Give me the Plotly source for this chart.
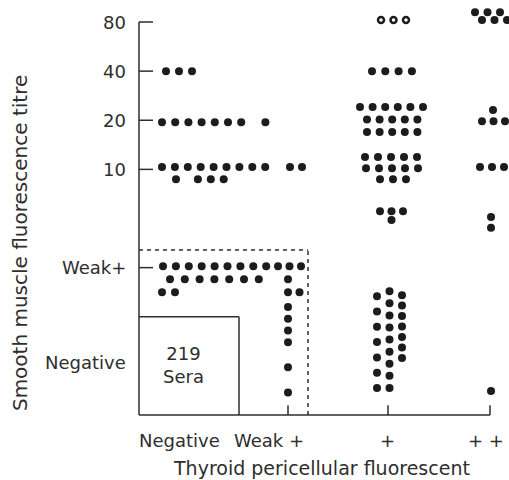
import plotly.graph_objects as go

# ---------------- data ----------------
x_categories = ["Negative", "Weak +", "+", "+ +"]
y_levels = ["Negative", "Weak+", "", "10", "20", "40", "80"]

# number of sera in each cell, one list per titre level (columns follow x_categories)
counts_negative = [219, 6, 23, 1]
counts_weak = [18, 6, 0, 0]
counts_unlabelled = [0, 0, 4, 2]
counts_10 = [13, 2, 13, 3]
counts_20 = [8, 0, 16, 4]
counts_40 = [3, 0, 4, 0]
counts_80 = [0, 0, 3, 6]
open_80 = [0, 0, 3, 0]          # sera drawn as open circles at titre 80

box_label = "Sera"
x_title = "Thyroid pericellular fluorescent"
y_title = "Smooth muscle fluorescence titre"

counts = [counts_negative, counts_weak, counts_unlabelled, counts_10,
          counts_20, counts_40, counts_80]
open_counts = {6: open_80}

# ---------------- layout (positions / styles) ----------------
X_POS = [0.0, 1.49, 2.49, 3.51]
Y_POS = [1, 3, 4, 5, 6, 7, 8]
Y_TICKS = [1, 3, 4, 5, 6]          # level indices carrying a tick mark
X_END, Y_END = 3.51, 8.0
X_RANGE = [-1.39, 3.70]
Y_RANGE = [-1.323, 8.448]
Y_TICK_LEN = 0.14
X_TICK_LEN = 0.20

# arrangement of dots inside each cell: (level index, category index)
SPECS = {
    (5, 0): dict(sizes=[3], dx0=.27, dy0=0, along=.13),
    (4, 0): dict(sizes=[8], dx0=.23, dy0=-.04, along=.132, gaps={(0, 7): .11}),
    (3, 0): dict(sizes=[9, 4], dx0=.23, dy0=.05, along=.129, across=-.25,
                 shift=[0, .14], gaps={(1, 1): .09}),
    (1, 0): dict(sizes=[9, 7, 2], dx0=.24, dy0=.03, along=[.129, .148, .13],
                 across=-.265, shift=[0, .07, -.01]),
    (3, 1): dict(sizes=[2], dx0=.02, dy0=.05, along=.12),
    (1, 1): dict(sizes=[3, 1, 2], dx0=-.10, dy0=.03, along=.115, across=-.265,
                 shift=[0, .10, .10]),
    (0, 1): dict(orient="v", sizes=[6], dx0=0, dy0=1.20, along=-.24,
                 gaps={(0, 4): .27, (0, 5): .27}),
    (6, 2): dict(sizes=[3], dx0=-.07, dy0=.04, along=.125),
    (5, 2): dict(sizes=[4], dx0=-.16, dy0=0, along=.133),
    (4, 2): dict(sizes=[6, 5, 5], dx0=-.28, dy0=.27, along=.126, across=-.255,
                 shift=[0, .07, .07]),
    (3, 2): dict(sizes=[5, 5, 3], dx0=-.23, dy0=.25, along=.13, across=-.225,
                 shift=[0, .01, .15]),
    (2, 2): dict(sizes=[3, 1], dx0=-.08, dy0=.15, along=.115, across=-.18,
                 shift=[0, .115]),
    (0, 2): dict(orient="v", sizes=[7, 9, 7], dx0=-.11, dy0=1.42,
                 along=[-.312, -.246, -.213], across=.125, shift=[0, .10, .02]),
    (6, 3): dict(sizes=[3, 3], dx0=-.15, dy0=.20, along=.125, across=-.16,
                 shift=[0, .07]),
    (4, 3): dict(sizes=[1, 3], dx0=.03, dy0=.21, along=.115, across=-.23,
                 shift=[0, -.11]),
    (3, 3): dict(sizes=[3], dx0=-.10, dy0=.05, along=.12),
    (2, 3): dict(orient="v", sizes=[2], dx0=.01, dy0=.03, along=-.22),
    (0, 3): dict(sizes=[1], dx0=.01, dy0=-.51),
}

INK = "#1c1c1c"
TXT = "#2e2e2e"
FONT = "DejaVu Sans"


def arrange(spec, n):
    sizes = spec["sizes"]
    assert sum(sizes) == n, (spec, n)
    orient = spec.get("orient", "h")
    along = spec.get("along", .13)
    across = spec.get("across", -.25)
    shift = spec.get("shift", [0] * len(sizes))
    gaps = spec.get("gaps", {})
    pts = []
    for li, size in enumerate(sizes):
        step = along[li] if isinstance(along, list) else along
        sign = 1 if step >= 0 else -1
        extra = 0.0
        for j in range(size):
            extra += gaps.get((li, j), 0.0)
            a = shift[li] + j * step + sign * extra
            if orient == "h":
                pts.append((spec["dx0"] + a, spec["dy0"] + li * across))
            else:
                pts.append((spec["dx0"] + li * across, spec["dy0"] + a))
    return pts


fx, fy, ox, oy = [], [], [], []
for yi, row in enumerate(counts):
    for xi, n in enumerate(row):
        if (yi, xi) not in SPECS:
            continue
        pts = arrange(SPECS[(yi, xi)], n)
        n_open = open_counts.get(yi, [0] * 4)[xi]
        for k, (dx, dy) in enumerate(pts):
            X = X_POS[xi] + dx
            Y = Y_POS[yi] + dy
            if k < n_open:
                ox.append(X); oy.append(Y)
            else:
                fx.append(X); fy.append(Y)

fig = go.Figure()
fig.add_trace(go.Scatter(x=fx, y=fy, mode="markers", cliponaxis=False,
                         marker=dict(size=8, color=INK, line=dict(width=0)),
                         showlegend=False, hoverinfo="skip"))
fig.add_trace(go.Scatter(x=ox, y=oy, mode="markers", cliponaxis=False,
                         marker=dict(size=6, color="white",
                                     line=dict(width=2.5, color=INK)),
                         showlegend=False, hoverinfo="skip"))

LINE = dict(color=TXT, width=1.5)
# axes
fig.add_shape(type="line", x0=0, x1=0, y0=0, y1=Y_END, line=LINE)
fig.add_shape(type="line", x0=0, x1=X_END, y0=0, y1=0, line=LINE)
for yi in Y_TICKS:
    fig.add_shape(type="line", x0=0, x1=Y_TICK_LEN, y0=Y_POS[yi], y1=Y_POS[yi], line=LINE)
for xv in X_POS[1:]:
    fig.add_shape(type="line", x0=xv, x1=xv, y0=0, y1=X_TICK_LEN, line=LINE)

# "219 Sera" box and dashed "weak" boundary
BOX_X, BOX_Y = 1.0, 2.0
DASH_X, DASH_Y = 1.69, 3.36
fig.add_shape(type="line", x0=0, x1=BOX_X, y0=BOX_Y, y1=BOX_Y, line=LINE)
fig.add_shape(type="line", x0=BOX_X, x1=BOX_X, y0=0, y1=BOX_Y, line=LINE)
fig.add_shape(type="line", x0=0, x1=DASH_X, y0=DASH_Y, y1=DASH_Y,
              line=dict(color=TXT, width=1.5, dash="4px,4px"))
fig.add_shape(type="line", x0=DASH_X, x1=DASH_X, y0=0, y1=DASH_Y,
              line=dict(color=TXT, width=1.5, dash="4px,4px"))
fig.add_annotation(x=0.44, y=1.02, text=f"{counts_negative[0]}<br>{box_label}",
                   showarrow=False, font=dict(family=FONT, size=18, color=TXT),
                   align="center")

# y tick labels
for yi, lab in enumerate(y_levels):
    if not lab:
        continue
    yv = Y_POS[yi] + (0.06 if yi == 0 else 0)
    fig.add_annotation(x=-0.11, y=yv, text=lab, showarrow=False,
                       xanchor="right", yanchor="middle",
                       font=dict(family=FONT, size=18, color=TXT))

# x tick labels
X_LAB = [(0.405, "center"), (1.665, "right"), (2.485, "center"), (3.47, "center")]
for (xv, anc), lab in zip(X_LAB, x_categories):
    fig.add_annotation(x=xv, y=-0.51, text=lab, showarrow=False,
                       xanchor=anc, yanchor="middle",
                       font=dict(family=FONT, size=18, color=TXT))

fig.add_annotation(x=1.82, y=-1.07, text=x_title, showarrow=False,
                   xanchor="center", yanchor="middle",
                   font=dict(family=FONT, size=19, color=TXT))
fig.add_annotation(x=-1.19, y=3.50, text=y_title, showarrow=False,
                   textangle=-90, xanchor="center", yanchor="middle",
                   font=dict(family=FONT, size=20, color=TXT))

fig.update_layout(
    width=509, height=480, autosize=False,
    margin=dict(l=0, r=0, t=0, b=0),
    paper_bgcolor="white", plot_bgcolor="white",
    xaxis=dict(range=X_RANGE, visible=False, fixedrange=True),
    yaxis=dict(range=Y_RANGE, visible=False, fixedrange=True),
)

fig.write_html("out.html")
